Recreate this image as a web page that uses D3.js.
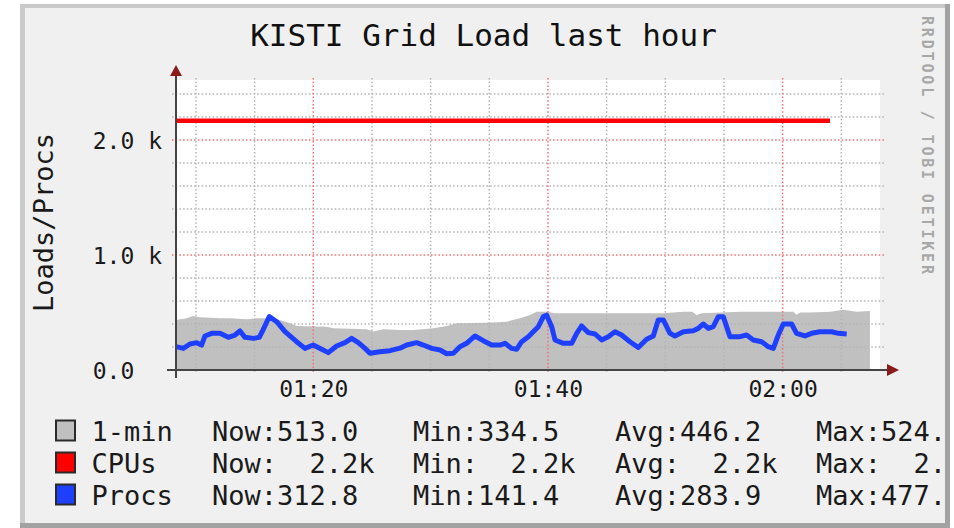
<!DOCTYPE html>
<html><head><meta charset="utf-8">
<script src="https://cdn.jsdelivr.net/npm/d3@7"></script>
<style>
html,body{margin:0;padding:0;background:#fff;}
svg{display:block;}
text{font-family:"DejaVu Sans Mono",monospace;white-space:pre;}
</style></head><body>
<svg id="chart" width="954" height="528"></svg>
<script>
// ---------- data ----------
const chartTitle = "KISTI Grid Load last hour";
const yAxisLabel = "Loads/Procs";
const watermark = "RRDTOOL / TOBI OETIKER";
const xMajorLabelMinutes = [20, 40, 60];          // minutes after 01:00 -> 01:20, 01:40, 02:00
const xMinorStepMinutes = 5;
const yTickValues = [0, 1000, 2000];
const yTickLabels = ["0.0  ", "1.0 k", "2.0 k"];
const yMinorStep = 200;

// 1-min load (area), minutes after 01:00
const loadMinutes = [8.3, 9.21, 9.77, 10.34, 12.05, 12.9, 14.32, 15.17, 16.31, 17.16, 18.01, 18.58, 21.14, 21.71, 24.55, 25.12, 25.97, 27.39, 28.53, 30.23, 31.37, 32.22, 34.78, 36.48, 37.62, 38.47, 39.04, 39.89, 40.6, 44.44, 47.28, 49.83, 51.54, 52.3, 52.67, 53.1, 56.36, 59.21, 60.9, 61.19, 61.5, 62.33, 64.04, 65.17, 66.31, 67.44];
const loadValues  = [435, 449, 470, 458, 449, 449, 441, 449, 449, 435, 406, 383, 377, 362, 354, 335, 354, 348, 348, 362, 383, 406, 412, 420, 449, 478, 507, 507, 493, 493, 493, 493, 507, 507, 478, 493, 507, 507, 507, 480, 499, 499, 507, 524, 507, 513];

// CPUs (line)
const cpuMinutes = [8.3, 64.04];
const cpuValues  = [2168, 2168];

// Procs (line)
const procMinutes = [8.3, 8.92, 9.49, 10.06, 10.48, 10.77, 11.34, 12.05, 12.76, 13.33, 13.75, 14.18, 14.89, 15.4, 15.74, 16.25, 16.88, 17.59, 18.58, 19.29, 20.0, 20.71, 21.28, 21.99, 22.7, 23.27, 23.84, 24.41, 24.83, 25.68, 26.54, 27.39, 27.96, 28.81, 29.38, 30.09, 30.8, 31.37, 31.94, 32.5, 33.07, 33.78, 34.49, 35.2, 35.91, 36.34, 36.91, 37.33, 37.76, 38.33, 38.75, 39.18, 39.61, 39.89, 40.32, 40.6, 41.31, 42.02, 42.45, 42.87, 43.44, 44.01, 44.58, 45.14, 45.71, 46.28, 46.99, 47.7, 48.41, 48.98, 49.4, 49.83, 50.4, 50.82, 51.54, 52.39, 52.81, 53.24, 53.67, 54.09, 54.52, 54.94, 55.51, 56.36, 56.93, 57.5, 58.21, 58.78, 59.21, 59.63, 60.06, 60.77, 61.19, 61.9, 62.47, 63.18, 64.18, 64.75, 65.46];
const procValues  = [203, 188, 226, 238, 217, 296, 319, 319, 284, 304, 339, 284, 275, 284, 354, 465, 420, 333, 246, 188, 217, 180, 151, 209, 238, 275, 238, 188, 145, 159, 168, 190, 217, 238, 217, 188, 174, 141, 145, 203, 232, 296, 255, 217, 217, 232, 188, 180, 246, 290, 333, 377, 464, 477, 377, 261, 232, 232, 319, 383, 325, 313, 261, 290, 333, 304, 246, 195, 267, 296, 435, 435, 319, 296, 333, 342, 362, 400, 362, 377, 464, 464, 290, 290, 304, 261, 246, 203, 188, 304, 400, 400, 319, 296, 319, 333, 333, 319, 313];

const legendNames  = ["1-min", "CPUs", "Procs"];
const legendColors = ["#c0c0c0", "#ff0000", "#1f3fff"];
const legendNow = ["513.0", "  2.2k", "312.8"];
const legendMin = ["334.5", "  2.2k", "141.4"];
const legendAvg = ["446.2", "  2.2k", "283.9"];
const legendMax = ["524.1", "  2.2k", "477.3"];

// ---------- drawing ----------
const svg = d3.select("#chart");
const base = new Date(2024, 0, 1, 1, 0, 0).getTime();
const t = m => new Date(base + m * 60000);

const L = 176, R = 880, T = 80, B = 370;
const x = d3.scaleTime().domain([t(8.3), t(68.3)]).range([L, R]);
const y = d3.scaleLinear().domain([0, 2522]).range([B, T]);

// frame
svg.append("rect").attr("x", 20).attr("y", 4).attr("width", 930).attr("height", 524).attr("fill", "#f0f0f0");
svg.append("rect").attr("x", 20).attr("y", 4).attr("width", 930).attr("height", 4).attr("fill", "#cacaca");
svg.append("rect").attr("x", 20).attr("y", 4).attr("width", 5).attr("height", 524).attr("fill", "#cacaca");
svg.append("rect").attr("x", 945).attr("y", 4).attr("width", 5).attr("height", 524).attr("fill", "#a2a2a2");
svg.append("rect").attr("x", 20).attr("y", 523).attr("width", 930).attr("height", 5).attr("fill", "#a2a2a2");

// canvas
svg.append("rect").attr("x", L).attr("y", T).attr("width", R - L).attr("height", B - T).attr("fill", "#ffffff");

// area
const loadData = loadMinutes.map((m, i) => ({ t: t(m), v: loadValues[i] }));
svg.append("path").datum(loadData)
  .attr("d", d3.area().x(d => x(d.t)).y0(y(0)).y1(d => y(d.v)))
  .attr("fill", "#c0c0c0");

// grid
const minorX = d3.range(10, 70, xMinorStepMinutes).map(t).filter(d => d >= x.domain()[0] && d <= x.domain()[1]);
const majorX = xMajorLabelMinutes.map(t);
const minorY = d3.range(yMinorStep, 2500, yMinorStep).filter(v => v % 1000 !== 0);
const majorY = yTickValues.filter(v => v > 0);
const g = svg.append("g");
g.selectAll("line.vminor").data(minorX.filter(d => !majorX.some(m => +m === +d))).join("line")
  .attr("x1", d => x(d)).attr("x2", d => x(d)).attr("y1", T - 2).attr("y2", B + 4)
  .attr("stroke", "#b4b4b4").attr("stroke-width", 1.5).attr("stroke-dasharray", "1.5,2.2");
g.selectAll("line.hminor").data(minorY).join("line")
  .attr("x1", L - 4).attr("x2", R + 6).attr("y1", d => y(d)).attr("y2", d => y(d))
  .attr("stroke", "#b4b4b4").attr("stroke-width", 1.5).attr("stroke-dasharray", "1.5,2.2");
g.selectAll("line.vmajor").data(majorX).join("line")
  .attr("x1", d => x(d)).attr("x2", d => x(d)).attr("y1", T - 2).attr("y2", B + 4)
  .attr("stroke", "#f07070").attr("stroke-width", 1.5).attr("stroke-dasharray", "1.5,2.2");
g.selectAll("line.hmajor").data(majorY).join("line")
  .attr("x1", L - 4).attr("x2", R + 6).attr("y1", d => y(d)).attr("y2", d => y(d))
  .attr("stroke", "#f07070").attr("stroke-width", 1.5).attr("stroke-dasharray", "1.5,2.2");

// lines
const lineGen = d3.line().x(d => x(d.t)).y(d => y(d.v));
svg.append("path").datum(cpuMinutes.map((m, i) => ({ t: t(m), v: cpuValues[i] })))
  .attr("d", lineGen).attr("fill", "none").attr("stroke", "#ff0000").attr("stroke-width", 4.5);
svg.append("path").datum(procMinutes.map((m, i) => ({ t: t(m), v: procValues[i] })))
  .attr("d", lineGen).attr("fill", "none").attr("stroke", "#1f3fff").attr("stroke-width", 5)
  .attr("stroke-linejoin", "round");

// axes lines & arrows
svg.append("line").attr("x1", L - 9).attr("x2", R + 7).attr("y1", B).attr("y2", B).attr("stroke", "#444").attr("stroke-width", 2);
svg.append("line").attr("x1", L).attr("x2", L).attr("y1", 75).attr("y2", B + 8).attr("stroke", "#444").attr("stroke-width", 2);
svg.append("path").attr("d", `M${L},65 L${L - 6},76 L${L + 6},76 Z`).attr("fill", "#8b1a1a");
svg.append("path").attr("d", `M899,${B} L887,${B - 6} L887,${B + 6} Z`).attr("fill", "#8b1a1a");

// axis labels
const xAxis = svg.append("g").attr("transform", `translate(0,${B})`)
  .call(d3.axisBottom(x).tickValues(majorX).tickFormat(d3.timeFormat("%H:%M")).tickSize(0));
xAxis.select(".domain").remove();
xAxis.selectAll("text").attr("y", 27).attr("dy", 0).attr("font-size", 23).attr("fill", "#1a1a1a")
  .attr("font-family", "DejaVu Sans Mono");

const yAxis = svg.append("g").attr("transform", `translate(${L},0)`)
  .call(d3.axisLeft(y).tickValues(yTickValues).tickFormat((d, i) => yTickLabels[i]).tickSize(0).tickPadding(14));
yAxis.select(".domain").remove();
yAxis.selectAll("text").attr("dy", "0.36em").attr("font-size", 23).attr("fill", "#1a1a1a")
  .attr("font-family", "DejaVu Sans Mono");

// title
svg.append("text").attr("x", 483.5).attr("y", 46).attr("text-anchor", "middle")
  .attr("font-size", 31).attr("fill", "#111").text(chartTitle);

// y label
svg.append("text").attr("transform", "translate(53,222.5) rotate(-90)").attr("text-anchor", "middle")
  .attr("font-size", 27).attr("fill", "#1a1a1a").text(yAxisLabel);

// watermark
svg.append("text").attr("transform", "translate(922,16) rotate(90)")
  .attr("font-size", 15).attr("font-weight", "bold").attr("fill", "#a8a8a8")
  .attr("textLength", 258).attr("lengthAdjust", "spacing")
  .text(watermark);

// legend (clipped at the right frame edge, as in the original)
svg.append("clipPath").attr("id", "legclip").append("rect").attr("x", 25).attr("y", 400).attr("width", 920).attr("height", 123);
const leg = svg.append("g").attr("clip-path", "url(#legclip)");
const rowY = [440.5, 472.5, 504.5];
legendNames.forEach((name, i) => {
  leg.append("rect").attr("x", 56).attr("y", rowY[i] - 20).attr("width", 19).attr("height", 20)
    .attr("fill", legendColors[i]).attr("stroke", "#2a2a2a").attr("stroke-width", 2);
  const cols = [[91.5, name], [212, "Now:" + legendNow[i]], [413, "Min:" + legendMin[i]],
                [615, "Avg:" + legendAvg[i]], [816, "Max:" + legendMax[i]]];
  cols.forEach(([cx, s]) => {
    leg.append("text").attr("x", cx).attr("y", rowY[i]).attr("font-size", 27).attr("fill", "#1a1a1a")
      .attr("xml:space", "preserve").text(s);
  });
});
</script>
</body></html>
